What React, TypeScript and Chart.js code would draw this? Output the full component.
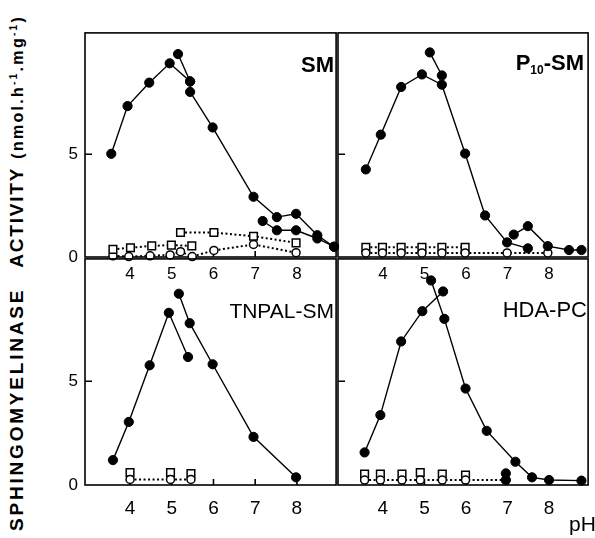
import React, { useEffect, useRef } from "react";
import { Chart, registerables } from "chart.js";
Chart.register(...registerables);

// ---------- axes ----------
const X_TICKS = [4, 5, 6, 7, 8];
const Y_TICKS = [0, 5];
const X_MIN = 2.92;
const X_MAX = 8.94;
const Y_MIN = 0;
const Y_MAX = 10.9;

// ---------- SM ----------
const SM_A_PH = [3.55, 3.94, 4.46, 4.95, 5.44, 5.44, 5.98, 6.96, 7.52, 7.98, 8.49, 8.89];
const SM_A_ACT = [5.02, 7.34, 8.48, 9.42, 8.54, 8.03, 6.3, 2.93, 1.94, 2.1, 1.06, 0.5];
const SM_B_PH = [5.15, 5.44];
const SM_B_ACT = [9.87, 8.54];
const SM_C_PH = [7.18, 7.52, 7.98, 8.49, 8.89];
const SM_C_ACT = [1.75, 1.3, 1.3, 0.9, 0.5];
const SM_SQ1_PH = [3.59, 4.01, 4.52, 4.99, 5.48];
const SM_SQ1_ACT = [0.37, 0.45, 0.54, 0.58, 0.54];
const SM_SQ2_PH = [5.21, 6.01, 6.96, 7.98];
const SM_SQ2_ACT = [1.19, 1.19, 1.01, 0.69];
const SM_CI_PH = [3.59, 3.97, 4.48, 4.96, 5.21, 5.49, 6.01, 6.96, 7.98];
const SM_CI_ACT = [0.06, 0.02, 0.06, 0.1, 0.26, 0.02, 0.32, 0.61, 0.21];

// ---------- P10-SM ----------
const P10_A_PH = [3.59, 3.95, 4.44, 4.94, 5.42, 5.98, 6.46, 6.99, 7.49];
const P10_A_ACT = [4.26, 5.95, 8.27, 8.88, 8.38, 5.03, 2.02, 0.71, 0.42];
const P10_B_PH = [5.13, 5.42];
const P10_B_ACT = [9.95, 8.83];
const P10_C_PH = [7.15, 7.49, 7.97, 8.48, 8.78];
const P10_C_ACT = [1.09, 1.5, 0.53, 0.34, 0.34];
const P10_SQ_PH = [3.59, 3.99, 4.44, 4.94, 5.42, 5.98];
const P10_SQ_ACT = [0.47, 0.47, 0.47, 0.47, 0.47, 0.47];
const P10_CI_PH = [3.59, 3.99, 4.44, 4.94, 5.42, 5.98, 6.99, 7.97];
const P10_CI_ACT = [0.2, 0.2, 0.2, 0.2, 0.2, 0.2, 0.2, 0.2];

// ---------- TNPAL-SM ----------
const TN_A_PH = [3.59, 3.97, 4.47, 4.93, 5.39];
const TN_A_ACT = [1.2, 3.04, 5.77, 8.3, 6.17];
const TN_B_PH = [5.17, 5.43, 5.98, 6.96, 7.98];
const TN_B_ACT = [9.22, 7.8, 5.82, 2.32, 0.37];
const TN_SQ_PH = [4.0, 4.97, 5.46];
const TN_SQ_ACT = [0.6, 0.6, 0.55];
const TN_CI_PH = [4.0, 4.97, 5.46];
const TN_CI_ACT = [0.27, 0.27, 0.27];

// ---------- HDA-PC ----------
const HDA_A_PH = [3.56, 3.94, 4.44, 4.95, 5.45];
const HDA_A_ACT = [1.57, 3.37, 6.92, 8.38, 9.33];
const HDA_B_PH = [5.16, 5.48, 5.99, 6.5, 7.19, 7.59, 8.0, 8.78];
const HDA_B_ACT = [9.86, 8.01, 4.65, 2.61, 1.12, 0.37, 0.24, 0.21];
const HDA_X_PH = [6.96, 6.96];
const HDA_X_ACT = [0.56, 0.24];
const HDA_SQ_PH = [3.56, 3.94, 4.46, 4.9, 5.43, 5.99];
const HDA_SQ_ACT = [0.53, 0.53, 0.53, 0.6, 0.53, 0.48];
const HDA_CI_PH = [3.56, 3.94, 4.46, 4.9, 5.43, 5.99, 6.96];
const HDA_CI_ACT = [0.24, 0.24, 0.24, 0.24, 0.24, 0.24, 0.24];

const FONT = "'Liberation Sans', Arial, Helvetica, sans-serif";

type Kind = "filled" | "square" | "circle";
type Series = { ph: number[]; act: number[]; kind: Kind; line?: boolean };

function makeDataset(s: Series) {
  const data = s.ph.map((x, i) => ({ x, y: s.act[i] }));
  const showLine = s.line !== false;
  if (s.kind === "filled") {
    return {
      data,
      showLine,
      borderColor: "#000",
      borderWidth: 1.4,
      pointStyle: "circle",
      pointRadius: 4.6,
      pointBackgroundColor: "#000",
      pointBorderColor: "#000",
      pointBorderWidth: 1,
      clip: false as const,
      order: 1,
    };
  }
  return {
    data,
    showLine,
    borderColor: "#000",
    borderWidth: 2,
    borderDash: [2, 2.5],
    pointStyle: s.kind === "square" ? "rect" : "circle",
    pointRadius: s.kind === "square" ? 5.4 : 4,
    pointBackgroundColor: "#fff",
    pointBorderColor: "#000",
    pointBorderWidth: 1.5,
    clip: false as const,
    order: 2,
  };
}

const framePlugin = {
  id: "frame",
  beforeDatasetsDraw(chart: any) {
    const { ctx, chartArea: a, scales } = chart;
    ctx.save();
    ctx.strokeStyle = "#000";
    ctx.lineWidth = 1.6;
    ctx.strokeRect(a.left, a.top, a.right - a.left, a.bottom - a.top);
    ctx.beginPath();
    for (const v of X_TICKS) {
      const px = scales.x.getPixelForValue(v);
      ctx.moveTo(px, a.bottom);
      ctx.lineTo(px, a.bottom - 6);
    }
    for (const v of Y_TICKS) {
      if (v === 0) continue;
      const py = scales.y.getPixelForValue(v);
      ctx.moveTo(a.left, py);
      ctx.lineTo(a.left + 7, py);
    }
    ctx.stroke();
    ctx.restore();
  },
};

type PanelProps = {
  left: number;
  top: number;
  width: number;
  height: number;
  series: Series[];
  showY: boolean;
  xFont: number;
  xPad: number;
};

function Panel(p: PanelProps) {
  const ref = useRef<HTMLCanvasElement | null>(null);
  useEffect(() => {
    if (!ref.current) return;
    const chart = new Chart(ref.current, {
      type: "scatter",
      data: { datasets: p.series.map(makeDataset) as any },
      options: {
        animation: false,
        responsive: true,
        maintainAspectRatio: false,
        devicePixelRatio: 1,
        events: [],
        layout: { padding: { top: 5, right: 5, left: 0, bottom: 0 } },
        plugins: { legend: { display: false }, tooltip: { enabled: false } },
        scales: {
          x: {
            type: "linear",
            min: X_MIN,
            max: X_MAX,
            grid: { display: false, drawTicks: false },
            border: { display: false },
            ticks: {
              color: "#000",
              font: { family: FONT, size: p.xFont },
              padding: p.xPad,
              maxRotation: 0,
              autoSkip: false,
            },
            afterBuildTicks: (s: any) => {
              s.ticks = X_TICKS.map((v) => ({ value: v }));
            },
            afterFit: (s: any) => {
              s.height = 45;
              s.paddingLeft = 0;
              s.paddingRight = 0;
            },
          },
          y: {
            type: "linear",
            min: Y_MIN,
            max: Y_MAX,
            grid: { display: false, drawTicks: false },
            border: { display: false },
            ticks: {
              display: p.showY,
              color: "#000",
              font: { family: FONT, size: 17 },
              padding: 7,
            },
            afterBuildTicks: (s: any) => {
              s.ticks = Y_TICKS.map((v) => ({ value: v }));
            },
            afterFit: (s: any) => {
              s.width = 45;
              s.paddingTop = 0;
              s.paddingBottom = 0;
            },
          },
        },
      } as any,
      plugins: [framePlugin],
    });
    return () => chart.destroy();
  }, []);
  return (
    <div
      style={{
        position: "absolute",
        left: p.left - 45,
        top: p.top - 5,
        width: p.width + 50,
        height: p.height + 50,
      }}
    >
      <canvas ref={ref} />
    </div>
  );
}

const SM_SERIES: Series[] = [
  { ph: SM_SQ1_PH, act: SM_SQ1_ACT, kind: "square" },
  { ph: SM_SQ2_PH, act: SM_SQ2_ACT, kind: "square" },
  { ph: SM_CI_PH, act: SM_CI_ACT, kind: "circle" },
  { ph: SM_A_PH, act: SM_A_ACT, kind: "filled" },
  { ph: SM_B_PH, act: SM_B_ACT, kind: "filled" },
  { ph: SM_C_PH, act: SM_C_ACT, kind: "filled" },
];
const P10_SERIES: Series[] = [
  { ph: P10_CI_PH, act: P10_CI_ACT, kind: "circle" },
  { ph: P10_SQ_PH, act: P10_SQ_ACT, kind: "square" },
  { ph: P10_A_PH, act: P10_A_ACT, kind: "filled" },
  { ph: P10_B_PH, act: P10_B_ACT, kind: "filled" },
  { ph: P10_C_PH, act: P10_C_ACT, kind: "filled" },
];
const TN_SERIES: Series[] = [
  { ph: TN_CI_PH, act: TN_CI_ACT, kind: "circle" },
  { ph: TN_SQ_PH, act: TN_SQ_ACT, kind: "square", line: false },
  { ph: TN_A_PH, act: TN_A_ACT, kind: "filled" },
  { ph: TN_B_PH, act: TN_B_ACT, kind: "filled" },
];
const HDA_SERIES: Series[] = [
  { ph: HDA_CI_PH, act: HDA_CI_ACT, kind: "circle" },
  { ph: HDA_SQ_PH, act: HDA_SQ_ACT, kind: "square", line: false },
  { ph: HDA_A_PH, act: HDA_A_ACT, kind: "filled" },
  { ph: HDA_B_PH, act: HDA_B_ACT, kind: "filled" },
  { ph: HDA_X_PH, act: HDA_X_ACT, kind: "filled", line: false },
];

const txt = (extra: React.CSSProperties): React.CSSProperties => ({
  position: "absolute",
  fontFamily: FONT,
  color: "#000",
  whiteSpace: "nowrap",
  ...extra,
});

export default function App() {
  return (
    <div
      style={{
        position: "absolute",
        left: 0,
        top: 0,
        width: 595,
        height: 538,
        background: "#fff",
        overflow: "hidden",
      }}
    >
      <Panel left={85} top={31} width={253} height={226} series={SM_SERIES} showY={true} xFont={17} xPad={7} />
      <Panel left={338} top={31} width={252} height={226} series={P10_SERIES} showY={false} xFont={17} xPad={7} />
      <Panel left={85} top={257} width={253} height={228} series={TN_SERIES} showY={true} xFont={19} xPad={12} />
      <Panel left={338} top={257} width={252} height={228} series={HDA_SERIES} showY={false} xFont={19} xPad={12} />

      <div style={txt({ right: 595 - 334, top: 54, fontSize: 22, fontWeight: "bold", lineHeight: "22px" })}>SM</div>
      <div style={txt({ right: 595 - 584, top: 52, fontSize: 22, fontWeight: "bold", lineHeight: "22px" })}>
        P<sub style={{ fontSize: 12, verticalAlign: -4 }}>10</sub>-SM
      </div>
      <div style={txt({ right: 595 - 334, top: 300, fontSize: 21, lineHeight: "21px" })}>TNPAL-SM</div>
      <div style={txt({ right: 595 - 587, top: 299, fontSize: 22, lineHeight: "22px" })}>HDA-PC</div>
      <div style={txt({ left: 569, top: 513, fontSize: 21, lineHeight: "21px" })}>pH</div>

      <div
        style={txt({
          left: 4,
          top: 531,
          width: 530,
          height: 26,
          lineHeight: "26px",
          fontWeight: "bold",
          transformOrigin: "0 0",
          transform: "rotate(-90deg)",
        })}
      >
        <span style={{ fontSize: 19, letterSpacing: 2.8 }}>SPHINGOMYELINASE</span>
        <span style={{ fontSize: 19, letterSpacing: 1.8, marginLeft: 20 }}>ACTIVITY</span>
        <span style={{ fontSize: 16, letterSpacing: 2.3, marginLeft: 8 }}>
          (nmol.h<sup style={{ fontSize: 10, lineHeight: 0 }}>-1</sup>.mg<sup style={{ fontSize: 10, lineHeight: 0 }}>-1</sup>)
        </span>
      </div>
    </div>
  );
}
